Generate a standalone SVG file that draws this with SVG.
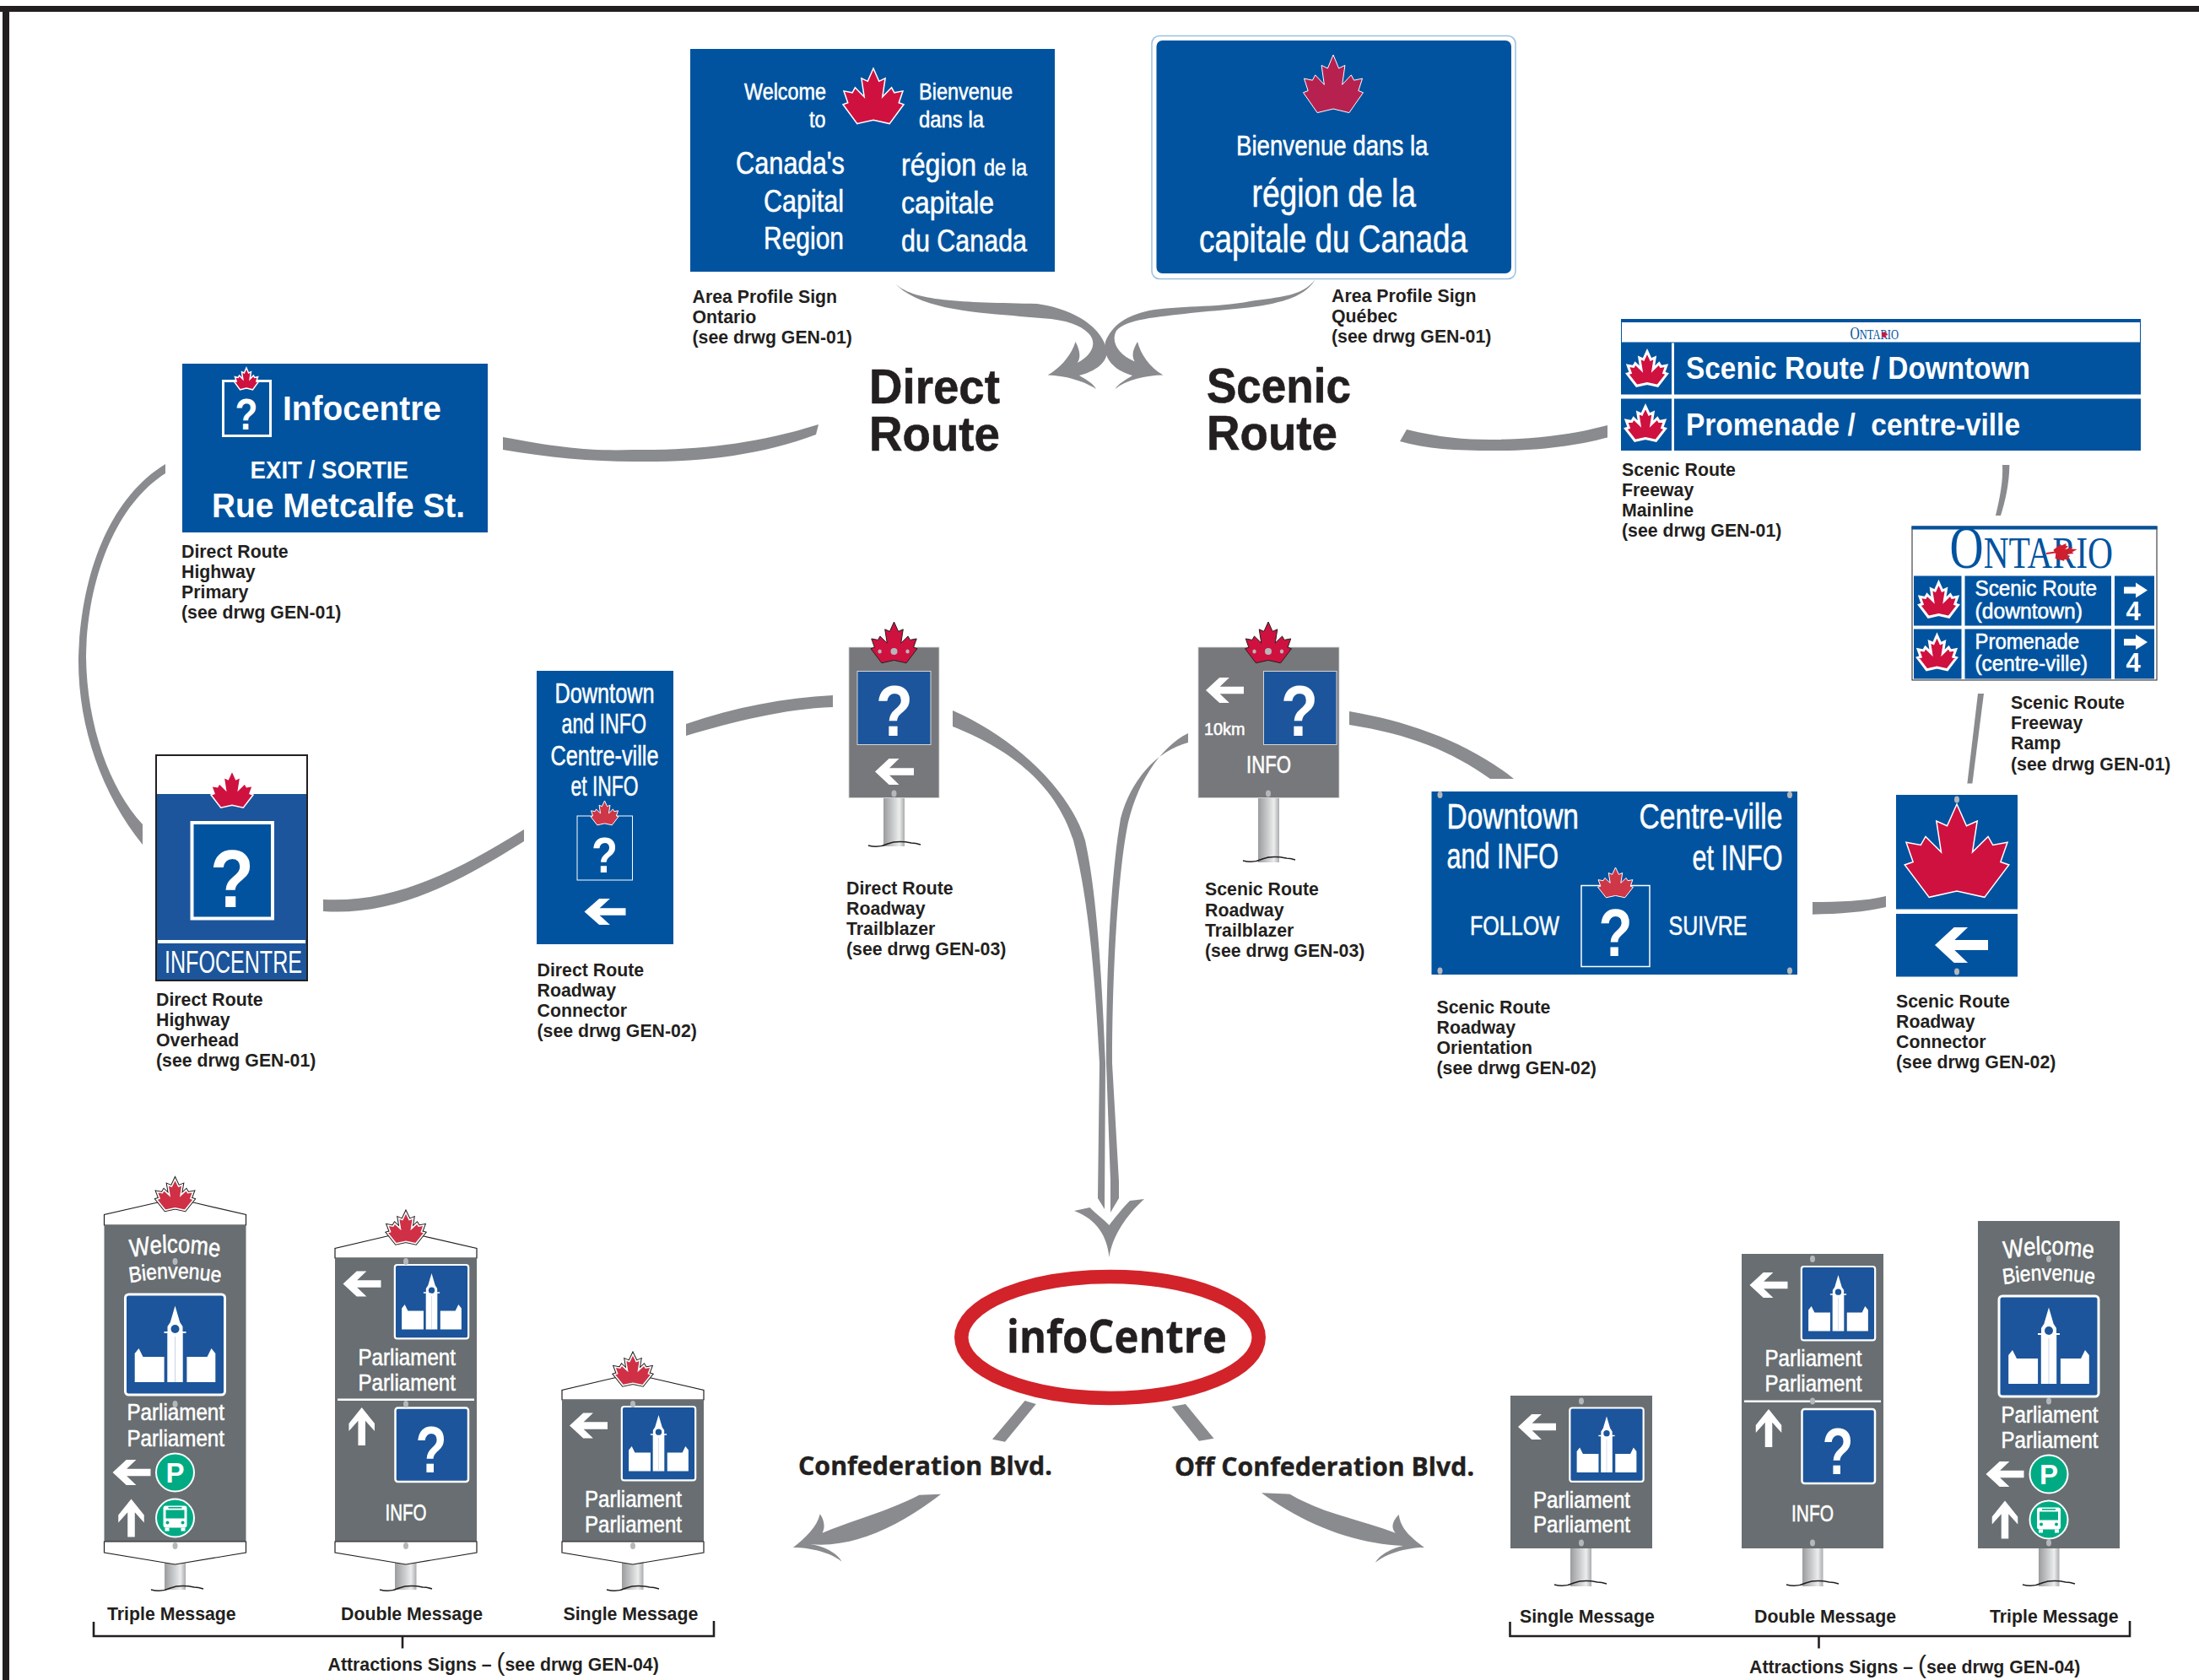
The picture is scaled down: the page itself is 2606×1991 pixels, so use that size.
<svg xmlns="http://www.w3.org/2000/svg" xmlns:xlink="http://www.w3.org/1999/xlink" width="2606" height="1991" viewBox="0 0 2606 1991">
<style>
text{font-family:"Liberation Sans",Arial,sans-serif}
.cap{font-size:21.3px;font-weight:700;fill:#231f20}
.w{fill:#fff;stroke:#fff;stroke-width:.55}
.t{fill:#fff}
.wb{fill:#fff;font-weight:700}
.q{fill:#fff;font-weight:700;text-anchor:middle}
.big{fill:#231f20;stroke:#231f20;stroke-width:.6;font-weight:700;font-size:57px}
.osb{font-family:"Open Sans","Liberation Sans",sans-serif;fill:#231f20;stroke:#231f20;stroke-width:.4;font-weight:700}
.blue{fill:#01539f}
.mid{fill:#1c559b}
.tb{fill:#77787b}
.pan{fill:#686e71}
.conn{fill:#898b8e}
.plate{fill:#fff;stroke:#231f20;stroke-width:1.2}
.lr{fill:#cf1140}
.lw{fill:#cf1140;stroke:#fff;stroke-width:1.5}
.lww{fill:#cf1140;stroke:#fff;stroke-width:3}
.lp{fill:#cf3045;stroke:#fff;stroke-width:1.6}
.ld{fill:none;stroke:#231f20;stroke-width:3.6}
.lk{fill:#cf1140;stroke:#231f20;stroke-width:1}
.arw{fill:#fff}
.riv{fill:#b5b8ba}
.post{fill:url(#pg)}
.grn{fill:#00ab84;stroke:#fff;stroke-width:2}
.brk{fill:none;stroke:#231f20;stroke-width:2.6}
</style>
<defs>
<linearGradient id="pg"><stop offset="0" stop-color="#9a9c9e"/><stop offset=".45" stop-color="#c9cbcc"/><stop offset=".75" stop-color="#eceded"/><stop offset="1" stop-color="#a9abad"/></linearGradient>
<path id="leaf" vector-effect="non-scaling-stroke" d="M0-50L9.3-26.8 19.6-32 15 1.2 30-15.4 34.6-6.3 48.6-9.3 42 11.7 50 14.8 26.6 49.4 0 42.8-26.6 49.4-50 14.8-42 11.7-48.6-9.3-34.6-6.3-30-15.4-15 1.2-19.6-32-9.3-26.8Z"/>
<path id="al" d="M-50 0L-14-50 12-50-13-14 50-14 50 14-13 14 12 50-14 50Z"/>
<path id="au" d="M0-50L50-8 50 12 14-15 14 50-14 50-14-15-50 12-50-8Z"/>
<path id="ar" fill="#fff" d="M14 0L0-9 0-4-14-4-14 4 0 4 0 9Z"/>
<path id="wave" d="M-31 0C-20 3-12 0-8-2 0-5 10-5 20-3 25-3 28-2 31-1" fill="none" stroke="#231f20" stroke-width="1.5"/>
<g id="parl">
<rect x="-59" y="0" width="118" height="119" rx="4" fill="#1c559b" stroke="#fff" stroke-width="3"/>
<path fill="#fff" d="M0 13.6L5.7 33 9 38 9 44 13 44 13 46 9.2 46 9.2 104-9.2 104-9.2 46-13 46-13 44-9 44-9 38-5.7 33Z"/>
<circle cx="0" cy="41" r="5" fill="#1c559b"/>
<path fill="#fff" d="M-47.8 104V70L-43 64-38 74H-12.9V104ZM47.8 104V70L43 64 38 74H13.9V104Z"/>
<path d="M0 50V104" stroke="#c9d3e6" stroke-width="1"/>
</g>
<g id="bus">
<rect x="-14" y="-15" width="28" height="26" rx="3" fill="#fff"/>
<rect x="-11" y="-10" width="22" height="10" fill="#00ab84"/>
<rect x="-8" y="-13.5" width="16" height="1.6" fill="#00ab84"/>
<rect x="-12" y="11" width="5" height="4" fill="#fff"/><rect x="7" y="11" width="5" height="4" fill="#fff"/>
<circle cx="-9" cy="5" r="2" fill="#00ab84"/><circle cx="9" cy="5" r="2" fill="#00ab84"/>
</g>
<ellipse id="r" rx="3" ry="4" class="riv"/>
<path id="wel" d="M127.5 1494Q207.5 1475 287.5 1494"/>
<path id="bie" d="M127.5 1524Q207.5 1506 287.5 1524"/>
</defs>

<rect width="2606" height="1991" fill="#fff"/>
<g id="frame" fill="#231f20"><rect x="0" y="7" width="2606" height="7"/><rect x="3" y="7" width="8" height="1984"/></g>

<g id="connectors" class="conn">
<path d="M1059 334C1080 358 1140 358 1229 360 1270 366 1305 385 1312 416 1312 430 1298 440 1279 445 1288 450 1296 455 1299 461 1285 452 1262 445 1241.6 444.6 1258 435 1270 420 1274.5 405 1280 415 1281 424 1276.7 430 1296 420 1300 405 1290 395 1270 375 1230 378 1200 374 1150 370 1085 365 1059 334Z"/>
<path d="M1558.7 331C1545 350 1520 352 1481.5 357 1440 365 1395 362 1362 368 1335 374 1318 385 1310 405 1306 425 1322 440 1342 445 1334 450 1325 455 1321.6 461 1335 450 1358 445 1378.4 444.6 1362 435 1352 420 1348 405 1342 415 1341 422 1344.7 428.6 1325 420 1316 405 1323 392 1335 378 1370 376 1411 371 1470 365 1540 365 1558.7 331Z"/>
<path d="M596 518C660 530 700 535 751 533 830 534 900 525 970 503L967 515C900 540 830 548 751 547 700 547 650 542 596 533Z"/>
<path d="M1667 509C1720 522 1760 522 1800 520 1840 518 1875 512 1905 504L1905 518.6C1870 528 1820 535 1770 534 1725 534 1690 532 1659 523Z"/>
<path d="M196 550C130 590 96 680 93 779 92 860 120 940 169 1001L169 977C130 935 103 860 102 779 103 690 135 600 196 561Z"/>
<path d="M383 1066C460 1070 530 1040 621 983L621 997C530 1055 460 1085 383 1080Z"/>
<path d="M813 858C870 838 930 827 987 824L987 838C930 840 870 855 813 872Z"/>
<path d="M1129 842C1200 873 1268 935 1286 996 1300 1060 1306 1160 1310 1260L1309 1433 1301 1420 1303 1260C1298 1160 1290 1065 1272 996 1250 925 1190 885 1129 861Z"/>
<path d="M1408 869C1375 885 1345 930 1335 985 1325 1040 1318 1150 1318 1260L1326 1400 1326 1420 1316 1437 1316 1400 1311 1260C1311 1150 1316 1040 1328 970 1340 925 1370 890 1408 880Z"/>
<path d="M1599 843C1670 855 1740 880 1794 923L1766 923C1720 890 1670 870 1599 859Z"/>
<path d="M2373 551L2381.4 551C2381 575 2376 595 2371 611L2365 611C2370 590 2374 570 2373 551Z"/>
<path d="M2344 822L2351 822 2337.4 928.6 2331.4 928.6Z"/>
<path d="M2148 1069C2180 1069 2210 1068 2235 1062L2235 1075C2210 1081 2180 1083 2148 1083.7Z"/>
<path d="M1314.5 1490C1312 1465 1300 1445 1273 1435L1291.5 1431C1298 1438 1308 1445 1314.5 1452 1320 1445 1330 1432 1339 1423L1356 1421C1335 1440 1318 1465 1314.5 1490Z"/>
<path d="M1214.6 1660L1227.8 1664 1191 1708.7 1176 1705.7Z"/>
<path d="M1388.5 1667L1405 1664 1438.5 1704.7 1421 1707.7Z"/>
<path d="M940 1834C955 1822 968 1810 971.8 1794.3 977 1802 978 1810 974.6 1816.7 1015 1800 1055 1790 1089.4 1771.7L1115 1770.7C1065 1810 1010 1835 960 1830 975 1832 992 1840 997.6 1850.7 985 1840 960 1834 940 1834Z"/>
<path d="M1688 1834C1672 1822 1660 1812 1657.7 1795 1650 1803 1648 1810 1653.7 1816.7 1610 1800 1570 1795 1528.6 1770.7L1495 1769.3C1550 1810 1610 1830 1663 1832 1652 1834 1635 1842 1630 1851.7 1642 1842 1665 1834 1688 1834Z"/>
</g>

<g id="area-profile-ontario">
<rect class="blue" x="818" y="58" width="432" height="264"/>
<use xlink:href="#leaf" class="lw" transform="translate(1035 114) scale(.72 .66)"/>
<text class="w" x="882" y="118" font-size="27" textLength="97" lengthAdjust="spacingAndGlyphs">Welcome</text>
<text class="w" x="959" y="151" font-size="27" textLength="19.5" lengthAdjust="spacingAndGlyphs">to</text>
<text class="w" x="1089" y="118" font-size="27" textLength="111" lengthAdjust="spacingAndGlyphs">Bienvenue</text>
<text class="w" x="1089" y="151" font-size="27" textLength="77" lengthAdjust="spacingAndGlyphs">dans la</text>
<text class="w" x="872" y="206" font-size="37" textLength="129" lengthAdjust="spacingAndGlyphs">Canada's</text>
<text class="w" x="905" y="251" font-size="37" textLength="95" lengthAdjust="spacingAndGlyphs">Capital</text>
<text class="w" x="905" y="295" font-size="37" textLength="95" lengthAdjust="spacingAndGlyphs">Region</text>
<text class="w" x="1068" y="208" font-size="37" textLength="89" lengthAdjust="spacingAndGlyphs">région</text>
<text class="w" x="1166" y="208" font-size="27" textLength="51" lengthAdjust="spacingAndGlyphs">de la</text>
<text class="w" x="1068" y="252.5" font-size="37" textLength="110" lengthAdjust="spacingAndGlyphs">capitale</text>
<text class="w" x="1068" y="297.5" font-size="37" textLength="149" lengthAdjust="spacingAndGlyphs">du Canada</text>
<text class="cap" x="820.5" y="359">Area Profile Sign</text>
<text class="cap" x="820.5" y="383">Ontario</text>
<text class="cap" x="820.5" y="407">(see drwg GEN-01)</text>
</g>

<g id="area-profile-quebec">
<rect x="1365" y="42.5" width="431" height="288" rx="9" fill="#fff" stroke="#9dc0e0" stroke-width="1.5"/>
<rect class="blue" x="1370.5" y="48" width="420.5" height="276" rx="7"/>
<use xlink:href="#leaf" fill="#b72150" stroke="#fff" stroke-width="1" transform="translate(1580 99.5) scale(.71 .69)"/>
<text class="w" x="1465" y="184" font-size="33" textLength="227.5" lengthAdjust="spacingAndGlyphs">Bienvenue dans la</text>
<text class="w" x="1483.5" y="245" font-size="46" textLength="194.5" lengthAdjust="spacingAndGlyphs">région de la</text>
<text class="w" x="1421" y="299" font-size="46" textLength="318" lengthAdjust="spacingAndGlyphs">capitale du Canada</text>
<text class="cap" x="1578" y="358">Area Profile Sign</text>
<text class="cap" x="1578" y="382">Québec</text>
<text class="cap" x="1578" y="406">(see drwg GEN-01)</text>
</g>

<g id="direct-route"><text class="big" x="1030" y="478" textLength="155" lengthAdjust="spacingAndGlyphs">Direct</text><text class="big" x="1030" y="534" textLength="155" lengthAdjust="spacingAndGlyphs">Route</text></g>
<g id="scenic-route"><text class="big" x="1430" y="477" textLength="171" lengthAdjust="spacingAndGlyphs">Scenic</text><text class="big" x="1430" y="533" textLength="155" lengthAdjust="spacingAndGlyphs">Route</text></g>

<g id="highway-primary">
<rect class="blue" x="216" y="431" width="362" height="200"/>
<rect x="264.5" y="451.5" width="56" height="65" fill="none" stroke="#fff" stroke-width="3"/>
<use xlink:href="#leaf" class="lw" transform="translate(292 449) scale(.28 .26)"/>
<text class="q" x="292" y="509" font-size="52" textLength="27" lengthAdjust="spacingAndGlyphs">?</text>
<text class="wb" x="335" y="497.5" font-size="41" textLength="188" lengthAdjust="spacingAndGlyphs">Infocentre</text>
<text class="wb" x="296.5" y="566.5" font-size="29" textLength="187.5" lengthAdjust="spacingAndGlyphs">EXIT / SORTIE</text>
<text class="wb" x="251" y="613" font-size="40" textLength="300" lengthAdjust="spacingAndGlyphs">Rue Metcalfe St.</text>
<text class="cap" x="215" y="661">Direct Route</text>
<text class="cap" x="215" y="685">Highway</text>
<text class="cap" x="215" y="709">Primary</text>
<text class="cap" x="215" y="733">(see drwg GEN-01)</text>
</g>

<g id="highway-overhead">
<rect class="mid" x="185" y="941" width="179" height="221"/>
<rect x="185" y="895" width="179" height="267" fill="none" stroke="#231f20" stroke-width="2"/>
<use xlink:href="#leaf" class="lw" transform="translate(275 935.5) scale(.5 .44)"/>
<rect class="blue" x="227.5" y="975" width="95.5" height="113.5" stroke="#fff" stroke-width="4"/>
<text class="q" x="275" y="1074.5" font-size="96" textLength="52" lengthAdjust="spacingAndGlyphs">?</text>
<rect x="187" y="1114" width="175" height="4" fill="#fff"/>
<text class="t" x="195" y="1153" font-size="37" textLength="163" lengthAdjust="spacingAndGlyphs">INFOCENTRE</text>
<text class="cap" x="185" y="1192">Direct Route</text>
<text class="cap" x="185" y="1216">Highway</text>
<text class="cap" x="185" y="1240">Overhead</text>
<text class="cap" x="185" y="1264">(see drwg GEN-01)</text>
</g>

<g id="roadway-connector-direct">
<rect class="blue" x="636" y="795" width="162" height="324"/>
<text class="w" x="657.5" y="833" font-size="34" textLength="118" lengthAdjust="spacingAndGlyphs">Downtown</text>
<text class="w" x="665.5" y="869" font-size="34" textLength="100.5" lengthAdjust="spacingAndGlyphs">and INFO</text>
<text class="w" x="652.5" y="907" font-size="34" textLength="128" lengthAdjust="spacingAndGlyphs">Centre-ville</text>
<text class="w" x="676.5" y="942.5" font-size="34" textLength="80" lengthAdjust="spacingAndGlyphs">et INFO</text>
<rect x="684" y="967" width="65.5" height="76" fill="none" stroke="#fff" stroke-width="1"/>
<use xlink:href="#leaf" fill="#ce3747" stroke="#fff" stroke-width="1" transform="translate(716.5 963.5) scale(.33 .29)"/>
<text class="q" x="716.5" y="1034" font-size="60" textLength="31" lengthAdjust="spacingAndGlyphs">?</text>
<use xlink:href="#al" class="arw" transform="translate(717 1080.5) scale(.49 .31)"/>
<text class="cap" x="636.5" y="1156.5">Direct Route</text>
<text class="cap" x="636.5" y="1180.5">Roadway</text>
<text class="cap" x="636.5" y="1204.5">Connector</text>
<text class="cap" x="636.5" y="1228.5">(see drwg GEN-02)</text>
</g>

<g id="roadway-trailblazer-direct">
<rect class="post" x="1047" y="946" width="25" height="57"/>
<use xlink:href="#wave" transform="translate(1060 1002)"/>
<rect class="tb" x="1006" y="767" width="107" height="178.5" stroke="#d6d6d8" stroke-width=".8"/>
<use xlink:href="#leaf" class="lk" transform="translate(1059.5 761.5) scale(.55 .49)"/>
<ellipse class="riv" cx="1042.6" cy="772" rx="2.2" ry="2.6"/><ellipse class="riv" cx="1059.5" cy="772" rx="4" ry="4"/><ellipse class="riv" cx="1075.5" cy="772" rx="2.2" ry="2.6"/>
<rect class="mid" x="1016" y="795.5" width="87" height="87" stroke="#d6d6d8" stroke-width="1"/>
<text class="q" x="1060" y="872" font-size="86" textLength="44" lengthAdjust="spacingAndGlyphs">?</text>
<use xlink:href="#al" class="arw" transform="translate(1060 914.5) scale(.46 .31)"/>
<use xlink:href="#r" x="1059.5" y="940.5"/>
<text class="cap" x="1003" y="1059.5">Direct Route</text>
<text class="cap" x="1003" y="1084">Roadway</text>
<text class="cap" x="1003" y="1108">Trailblazer</text>
<text class="cap" x="1003" y="1132">(see drwg GEN-03)</text>
</g>

<g id="roadway-trailblazer-scenic">
<rect class="post" x="1491" y="946" width="25" height="76"/>
<use xlink:href="#wave" transform="translate(1504 1020)"/>
<rect class="tb" x="1420" y="767" width="167" height="178.5" stroke="#d6d6d8" stroke-width=".8"/>
<use xlink:href="#leaf" class="lk" transform="translate(1503 761.5) scale(.55 .49)"/>
<ellipse class="riv" cx="1486.5" cy="772" rx="2.2" ry="2.6"/><ellipse class="riv" cx="1503" cy="772" rx="4" ry="4"/><ellipse class="riv" cx="1519" cy="772" rx="2.2" ry="2.6"/>
<rect class="mid" x="1497.5" y="795.5" width="86.5" height="87" stroke="#d6d6d8" stroke-width="1"/>
<text class="q" x="1540" y="872" font-size="86" textLength="44" lengthAdjust="spacingAndGlyphs">?</text>
<use xlink:href="#al" class="arw" transform="translate(1451.5 818) scale(.45 .3)"/>
<text class="w" x="1427" y="871" font-size="21" textLength="48.5" lengthAdjust="spacingAndGlyphs">10km</text>
<text class="w" x="1477" y="915.5" font-size="29" textLength="53" lengthAdjust="spacingAndGlyphs">INFO</text>
<use xlink:href="#r" x="1503" y="940.5"/>
<text class="cap" x="1428" y="1061">Scenic Route</text>
<text class="cap" x="1428" y="1085.5">Roadway</text>
<text class="cap" x="1428" y="1110">Trailblazer</text>
<text class="cap" x="1428" y="1134">(see drwg GEN-03)</text>
</g>

<g id="freeway-mainline">
<rect x="1921.5" y="380" width="615" height="26" fill="#fff" stroke="#01539f" stroke-width="1"/>
<rect class="blue" x="1921" y="378" width="616" height="4"/>
<text x="2192.5" y="401.5" font-size="16" fill="#01539f" style="font-family:'Liberation Serif',serif" textLength="57.5" lengthAdjust="spacingAndGlyphs"><tspan font-size="20">O</tspan>NTARIO</text>
<use xlink:href="#leaf" class="lr" transform="translate(2234 396.5) scale(.08 .07) rotate(80)"/>
<rect class="blue" x="1921" y="406" width="60" height="61.5"/><rect class="blue" x="1984" y="406" width="553" height="61.5"/>
<rect class="blue" x="1921" y="472.5" width="60" height="61.5"/><rect class="blue" x="1984" y="472.5" width="553" height="61.5"/>
<use xlink:href="#leaf" class="lww" transform="translate(1952 437) scale(.47 .41)"/>
<use xlink:href="#leaf" class="lww" transform="translate(1950 502) scale(.47 .41)"/>
<text class="wb" x="1998" y="449" font-size="36" textLength="408" lengthAdjust="spacingAndGlyphs">Scenic Route / Downtown</text>
<text class="wb" x="1998" y="515.5" font-size="36" xml:space="preserve" textLength="396" lengthAdjust="spacingAndGlyphs">Promenade /  centre-ville</text>
<text class="cap" x="1922" y="564">Scenic Route</text>
<text class="cap" x="1922" y="588">Freeway</text>
<text class="cap" x="1922" y="612">Mainline</text>
<text class="cap" x="1922" y="636">(see drwg GEN-01)</text>
</g>

<g id="freeway-ramp">
<rect x="2266" y="624" width="290" height="182" fill="#fff" stroke="#231f20" stroke-width="1"/>
<rect class="blue" x="2265.5" y="623.5" width="291" height="4"/>
<text x="2310.5" y="672.5" font-size="53" fill="#01539f" style="font-family:'Liberation Serif',serif" textLength="193.5" lengthAdjust="spacingAndGlyphs"><tspan font-size="71">O</tspan>NTARIO</text>
<g fill="#cf1f2e"><use xlink:href="#leaf" transform="translate(2448 654) rotate(78) scale(.2 .28)"/><rect x="2425" y="654" width="14" height="2" transform="rotate(-8 2432 655)"/></g>
<rect class="blue" x="2268" y="682.5" width="56.5" height="59"/><rect class="blue" x="2328.5" y="682.5" width="173.5" height="59"/><rect class="blue" x="2506" y="682.5" width="47" height="59"/>
<rect class="blue" x="2268" y="745.5" width="56.5" height="59"/><rect class="blue" x="2328.5" y="745.5" width="173.5" height="59"/><rect class="blue" x="2506" y="745.5" width="47" height="59"/>
<use xlink:href="#leaf" class="lww" transform="translate(2297.5 711) scale(.46 .41)"/>
<use xlink:href="#leaf" class="lww" transform="translate(2295.5 773.5) scale(.46 .41)"/>
<text class="w" x="2340.5" y="706" font-size="25" textLength="144.5" lengthAdjust="spacingAndGlyphs">Scenic Route</text>
<text class="w" x="2340.5" y="733" font-size="25" textLength="127.5" lengthAdjust="spacingAndGlyphs">(downtown)</text>
<text class="w" x="2340.5" y="768.5" font-size="25" textLength="123.5" lengthAdjust="spacingAndGlyphs">Promenade</text>
<text class="w" x="2340.5" y="794.5" font-size="25" textLength="133.5" lengthAdjust="spacingAndGlyphs">(centre-ville)</text>
<use xlink:href="#ar" transform="translate(2531 699.5)"/>
<use xlink:href="#ar" transform="translate(2531 761)"/>
<text class="wb" x="2528" y="735" font-size="31" text-anchor="middle">4</text>
<text class="wb" x="2528" y="796" font-size="31" text-anchor="middle">4</text>
<text class="cap" x="2383" y="839.5">Scenic Route</text>
<text class="cap" x="2383" y="864">Freeway</text>
<text class="cap" x="2383" y="888">Ramp</text>
<text class="cap" x="2383" y="912.5">(see drwg GEN-01)</text>
</g>

<g id="roadway-orientation">
<rect class="blue" x="1696.5" y="938" width="433.5" height="217"/>
<use xlink:href="#r" x="1706.5" y="942"/><use xlink:href="#r" x="2121" y="942"/><use xlink:href="#r" x="1706.5" y="1150.5"/><use xlink:href="#r" x="2121" y="1150.5"/>
<text class="w" x="1714.5" y="981.5" font-size="43" textLength="156.5" lengthAdjust="spacingAndGlyphs">Downtown</text>
<text class="w" x="1714.5" y="1029" font-size="43" textLength="132.5" lengthAdjust="spacingAndGlyphs">and INFO</text>
<text class="w" x="1942.5" y="982" font-size="43" textLength="170" lengthAdjust="spacingAndGlyphs">Centre-ville</text>
<text class="w" x="2005.5" y="1030.5" font-size="43" textLength="107" lengthAdjust="spacingAndGlyphs">et INFO</text>
<rect x="1874" y="1049.5" width="81" height="96" fill="none" stroke="#fff" stroke-width="1.5"/>
<use xlink:href="#leaf" fill="#ce3747" stroke="#fff" stroke-width="1" transform="translate(1914.5 1046) scale(.42 .36)"/>
<text class="q" x="1914.5" y="1133" font-size="80" textLength="40" lengthAdjust="spacingAndGlyphs">?</text>
<text class="w" x="1742" y="1108" font-size="32" textLength="106" lengthAdjust="spacingAndGlyphs">FOLLOW</text>
<text class="w" x="1977.5" y="1108" font-size="32" textLength="93" lengthAdjust="spacingAndGlyphs">SUIVRE</text>
<text class="cap" x="1702.5" y="1201">Scenic Route</text>
<text class="cap" x="1702.5" y="1225">Roadway</text>
<text class="cap" x="1702.5" y="1249">Orientation</text>
<text class="cap" x="1702.5" y="1273">(see drwg GEN-02)</text>
</g>

<g id="roadway-connector-scenic">
<rect class="blue" x="2247" y="942" width="144" height="135.5"/>
<rect class="blue" x="2247" y="1083" width="144" height="74.5"/>
<use xlink:href="#r" x="2319" y="947.5"/><use xlink:href="#r" x="2319" y="1151.5"/>
<use xlink:href="#leaf" class="lw" transform="translate(2319 1008.5) scale(1.235 1.11)"/>
<use xlink:href="#al" class="arw" transform="translate(2324.5 1120) scale(.63 .42)"/>
<text class="cap" x="2247" y="1194">Scenic Route</text>
<text class="cap" x="2247" y="1218">Roadway</text>
<text class="cap" x="2247" y="1242">Connector</text>
<text class="cap" x="2247" y="1266">(see drwg GEN-02)</text>
</g>

<g id="infocentre">
<ellipse cx="1315.5" cy="1585" rx="176.2" ry="72" fill="#fff" stroke="#d2232a" stroke-width="16.5"/>
<text class="osb" x="1193" y="1603" font-size="53" textLength="261" lengthAdjust="spacingAndGlyphs">infoCentre</text>
</g>
<g id="confederation"><text class="osb" x="946" y="1748" font-size="30" textLength="301" lengthAdjust="spacingAndGlyphs">Confederation Blvd.</text></g>
<g id="off-confederation"><text class="osb" x="1392" y="1749" font-size="30" textLength="355" lengthAdjust="spacingAndGlyphs">Off Confederation Blvd.</text></g>

<g id="attractions-left">
<g id="left-triple">
<rect class="post" x="195" y="1852" width="25" height="32"/><use xlink:href="#wave" transform="translate(210 1884)"/>
<path class="plate" d="M123.5 1452V1439.5L187 1425H229L291.5 1439.5V1452Z"/>
<rect class="pan" x="123.5" y="1452" width="168" height="375"/>
<path class="plate" d="M123.5 1827H291.5V1840L207.5 1854 123.5 1840Z"/>
<use xlink:href="#leaf" class="ld" transform="translate(207.5 1416) scale(.44 .37)"/>
<use xlink:href="#leaf" class="lp" transform="translate(207.5 1416) scale(.44 .37)"/>
<use xlink:href="#r" x="207.5" y="1495"/><use xlink:href="#r" x="207.5" y="1664"/><use xlink:href="#r" x="207.5" y="1832"/>
<g transform="translate(207.5 0) scale(.85 1) translate(-207.5 0)">
<text class="w" font-size="30" text-anchor="middle"><textPath xlink:href="#wel" startOffset="50%">Welcome</textPath></text>
</g>
<g transform="translate(207.5 0) scale(.88 1) translate(-207.5 0)">
<text class="w" font-size="26" text-anchor="middle"><textPath xlink:href="#bie" startOffset="50%">Bienvenue</textPath></text>
</g>
<use xlink:href="#parl" transform="translate(207.5 1534)"/>
<text class="w" x="150.5" y="1683" font-size="27" textLength="115.5" lengthAdjust="spacingAndGlyphs">Parliament</text>
<text class="w" x="150.5" y="1714" font-size="27" textLength="115.5" lengthAdjust="spacingAndGlyphs">Parliament</text>
<use xlink:href="#al" class="arw" transform="translate(156 1745) scale(.45 .3)"/>
<circle class="grn" cx="207.5" cy="1745" r="22.5"/>
<text class="q" x="207.5" y="1757" font-size="33">P</text>
<use xlink:href="#au" class="arw" transform="translate(155.5 1799) scale(.305 .45)"/>
<circle class="grn" cx="207.5" cy="1799" r="22.5"/>
<use xlink:href="#bus"  transform="translate(207.5 1799.5)"/>
<text class="cap" x="127" y="1920">Triple Message</text>
</g>
<g id="left-double">
<rect class="post" x="468" y="1852" width="25.5" height="32"/><use xlink:href="#wave" transform="translate(481 1884)"/>
<path class="plate" d="M397 1491V1479.5L463 1464H498L565 1479.5V1491Z"/>
<rect class="pan" x="397" y="1491" width="168" height="336"/>
<path class="plate" d="M397 1827H565V1840L481 1854 397 1840Z"/>
<use xlink:href="#leaf" class="ld" transform="translate(481 1455.5) scale(.44 .37)"/>
<use xlink:href="#leaf" class="lp" transform="translate(481 1455.5) scale(.44 .37)"/>
<use xlink:href="#al" class="arw" transform="translate(429 1521.5) scale(.45 .3)"/>
<use xlink:href="#parl" transform="translate(511.5 1499) scale(.74 .735)"/>
<text class="w" x="424.5" y="1617.5" font-size="27" textLength="115.5" lengthAdjust="spacingAndGlyphs">Parliament</text>
<text class="w" x="424.5" y="1648" font-size="27" textLength="115.5" lengthAdjust="spacingAndGlyphs">Parliament</text>
<rect x="400" y="1657.5" width="162" height="2.5" fill="#fff"/>
<use xlink:href="#au" class="arw" transform="translate(428.7 1690.5) scale(.305 .45)"/>
<rect class="mid" x="468.5" y="1668.5" width="86.5" height="87.5" rx="3" stroke="#fff" stroke-width="2.5"/>
<text class="q" x="511" y="1745" font-size="78" textLength="37" lengthAdjust="spacingAndGlyphs">?</text>
<text class="w" x="456.5" y="1802" font-size="28" textLength="49" lengthAdjust="spacingAndGlyphs">INFO</text>
<use xlink:href="#r" x="481" y="1495"/><use xlink:href="#r" x="481" y="1664"/><use xlink:href="#r" x="481" y="1832"/>
<text class="cap" x="404" y="1920">Double Message</text>
</g>
<g id="left-single">
<rect class="post" x="737" y="1852" width="25.5" height="32"/><use xlink:href="#wave" transform="translate(750 1884)"/>
<path class="plate" d="M666 1659V1647.5L732 1632H767L834 1647.5V1659Z"/>
<rect class="pan" x="666" y="1659" width="168" height="168"/>
<path class="plate" d="M666 1827H834V1840L750 1854 666 1840Z"/>
<use xlink:href="#leaf" class="ld" transform="translate(750 1623.5) scale(.44 .37)"/>
<use xlink:href="#leaf" class="lp" transform="translate(750 1623.5) scale(.44 .37)"/>
<use xlink:href="#al" class="arw" transform="translate(697.5 1689.5) scale(.45 .3)"/>
<use xlink:href="#parl" transform="translate(780.5 1667) scale(.74 .735)"/>
<text class="w" x="693" y="1785.5" font-size="27" textLength="115" lengthAdjust="spacingAndGlyphs">Parliament</text>
<text class="w" x="693" y="1815.5" font-size="27" textLength="115" lengthAdjust="spacingAndGlyphs">Parliament</text>
<use xlink:href="#r" x="750" y="1664"/><use xlink:href="#r" x="750" y="1832"/>
<text class="cap" x="667.5" y="1920">Single Message</text>
</g>
<path class="brk" d="M111 1922V1939H846V1921M477 1939V1953.5"/>
<text class="cap" x="388.5" y="1980">Attractions Signs – <tspan font-size="30" font-weight="400">(</tspan>see drwg GEN-04)</text>
</g>

<g id="attractions-right">
<g id="right-single">
<rect class="post" x="1861" y="1835" width="25" height="45"/><use xlink:href="#wave" transform="translate(1873 1878)"/>
<rect class="pan" x="1790" y="1654" width="168" height="181"/>
<use xlink:href="#al" class="arw" transform="translate(1821.5 1691) scale(.45 .3)"/>
<use xlink:href="#parl" transform="translate(1904 1668.5) scale(.74 .735)"/>
<text class="w" x="1817" y="1786.5" font-size="27" textLength="115" lengthAdjust="spacingAndGlyphs">Parliament</text>
<text class="w" x="1817" y="1816" font-size="27" textLength="115" lengthAdjust="spacingAndGlyphs">Parliament</text>
<use xlink:href="#r" x="1874" y="1660.5"/><use xlink:href="#r" x="1874" y="1828.5"/>
<text class="cap" x="1801" y="1922.5">Single Message</text>
</g>
<g id="right-double">
<rect class="post" x="2136" y="1835" width="24.5" height="45"/><use xlink:href="#wave" transform="translate(2148 1878)"/>
<rect class="pan" x="2064" y="1486" width="168" height="349"/>
<use xlink:href="#al" class="arw" transform="translate(2096 1523) scale(.45 .3)"/>
<use xlink:href="#parl" transform="translate(2178.5 1501) scale(.74 .735)"/>
<text class="w" x="2091.5" y="1618.5" font-size="27" textLength="115" lengthAdjust="spacingAndGlyphs">Parliament</text>
<text class="w" x="2091.5" y="1648.5" font-size="27" textLength="115" lengthAdjust="spacingAndGlyphs">Parliament</text>
<rect x="2067" y="1659.5" width="162" height="2.5" fill="#fff"/>
<use xlink:href="#au" class="arw" transform="translate(2096 1692.5) scale(.305 .45)"/>
<rect class="mid" x="2135.5" y="1670" width="86.5" height="88" rx="3" stroke="#fff" stroke-width="2.5"/>
<text class="q" x="2178" y="1746.5" font-size="78" textLength="37" lengthAdjust="spacingAndGlyphs">?</text>
<text class="w" x="2123" y="1802.5" font-size="28" textLength="50" lengthAdjust="spacingAndGlyphs">INFO</text>
<use xlink:href="#r" x="2148" y="1492"/><use xlink:href="#r" x="2148" y="1660.5"/><use xlink:href="#r" x="2148" y="1828.5"/>
<text class="cap" x="2079" y="1922.5">Double Message</text>
</g>
<g id="right-triple">
<rect class="post" x="2416" y="1835" width="24.5" height="45"/><use xlink:href="#wave" transform="translate(2428 1878)"/>
<rect class="pan" x="2344" y="1447" width="168" height="388"/>
<use xlink:href="#r" x="2428" y="1492"/><use xlink:href="#r" x="2428" y="1660.5"/><use xlink:href="#r" x="2428" y="1828.5"/>
<g transform="translate(2220.5 2)">
<g transform="translate(207.5 0) scale(.85 1) translate(-207.5 0)">
<text class="w" font-size="30" text-anchor="middle"><textPath xlink:href="#wel" startOffset="50%">Welcome</textPath></text>
</g>
<g transform="translate(207.5 0) scale(.88 1) translate(-207.5 0)">
<text class="w" font-size="26" text-anchor="middle"><textPath xlink:href="#bie" startOffset="50%">Bienvenue</textPath></text>
</g>
</g>
<use xlink:href="#parl" transform="translate(2428 1536)"/>
<text class="w" x="2371.5" y="1686" font-size="27" textLength="115" lengthAdjust="spacingAndGlyphs">Parliament</text>
<text class="w" x="2371.5" y="1715.5" font-size="27" textLength="115" lengthAdjust="spacingAndGlyphs">Parliament</text>
<use xlink:href="#al" class="arw" transform="translate(2376 1747) scale(.45 .3)"/>
<circle class="grn" cx="2428" cy="1747" r="22.5"/>
<text class="q" x="2428" y="1759" font-size="33">P</text>
<use xlink:href="#au" class="arw" transform="translate(2376 1801) scale(.305 .45)"/>
<circle class="grn" cx="2428" cy="1801" r="22.5"/>
<use xlink:href="#bus" transform="translate(2428 1801.5)"/>
<text class="cap" x="2358" y="1922.5">Triple Message</text>
</g>
<path class="brk" d="M1789.5 1922V1939H2524V1921M2155.5 1939V1953.5"/>
<text class="cap" x="2073" y="1982.5">Attractions Signs – <tspan font-size="30" font-weight="400">(</tspan>see drwg GEN-04)</text>
</g>
</svg>
